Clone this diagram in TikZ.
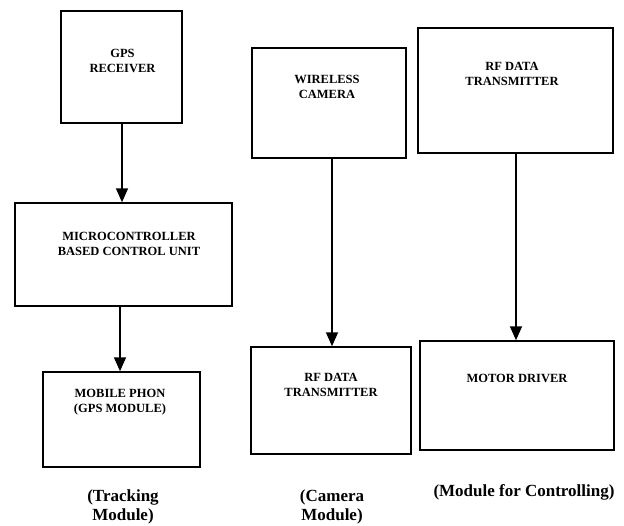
\documentclass[tikz,border=0pt]{standalone}
\usepackage{fontspec}
\setmainfont{Liberation Serif}
\usetikzlibrary{arrows.meta}
\begin{document}
\begin{tikzpicture}[x=1pt,y=-1pt,
  box/.style={draw, line width=1.5pt, inner sep=0pt},
  lbl/.style={align=center, inner sep=0pt, font=\bfseries\fontsize{12.5}{15.5}\selectfont},
  captxt/.style={align=center, inner sep=0pt, font=\bfseries\fontsize{17}{18.5}\selectfont},
  arr/.style={line width=1.7pt, -{Triangle[length=14pt,width=12pt]}}]
\useasboundingbox (0,0) rectangle (624,525);
% boxes
\node[box, minimum width=121pt, minimum height=112pt] (gps) at (121.5,67) {};
\node[box, minimum width=217pt, minimum height=103pt] (mcu) at (123.5,254.5) {};
\node[box, minimum width=157pt, minimum height=95pt] (mob) at (121.5,419.5) {};
\node[box, minimum width=154pt, minimum height=110pt] (cam) at (329,103) {};
\node[box, minimum width=160pt, minimum height=107pt] (rfa) at (331,400.5) {};
\node[box, minimum width=195pt, minimum height=125pt] (rfb) at (515.5,90.5) {};
\node[box, minimum width=194pt, minimum height=109pt] (mot) at (517,395.5) {};
% texts
\node[lbl] (gpsT) at (122.5,61) {GPS\\RECEIVER};
\node[lbl] (mcuT) at (129,244) {MICROCONTROLLER\\BASED CONTROL UNIT};
\node[lbl] (mobT) at (120,402) {MOBILE PHON\\(GPS MODULE)};
\node[lbl] (camT) at (327,87) {WIRELESS\\CAMERA};
\node[lbl] (rfaT) at (331,385) {RF DATA\\TRANSMITTER};
\node[lbl] (rfbT) at (512,74) {RF DATA\\TRANSMITTER};
\node[lbl] (motT) at (517,378) {MOTOR DRIVER};
% captions
\node[captxt] (c1) at (123,507) {(Tracking\\Module)};
\node[captxt] (c2) at (332,507) {(Camera\\Module)};
\node[captxt] (c3) at (524,492) {(Module for Controlling)};
% arrows
\draw[arr] ([xshift=0.5pt]gps.south) -- ([xshift=0.5pt]gps.south |- mcu.north);
\draw[arr] ([xshift=-1.5pt]mcu.south -| mob.north) -- ([xshift=-1.5pt]mob.north);
\draw[arr] ([xshift=1pt]cam.south -| rfa.north) -- ([xshift=1pt]rfa.north);
\draw[arr] ([xshift=0.5pt]rfb.south) -- ([xshift=0.5pt]rfb.south |- mot.north);
\end{tikzpicture}
\end{document}
